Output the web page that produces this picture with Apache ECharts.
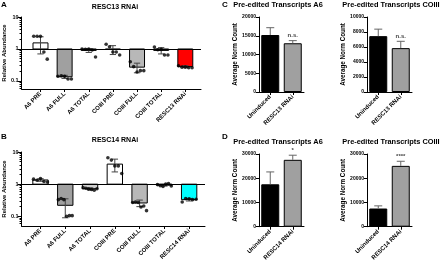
<!DOCTYPE html>
<html>
<head>
<meta charset="utf-8">
<script src="https://cdn.jsdelivr.net/npm/echarts@6/dist/echarts.min.js"></script>
<style>
  html, body { margin: 0; padding: 0; background: #fff; }
  #main { width: 440px; height: 263px; }
</style>
</head>
<body>
<div id="main"></div>
<script>
// ---- data ----
const groupsA = ['A6 PRE', 'A6 FULL', 'A6 TOTAL', 'COIII PRE', 'COIII FULL', 'COIII TOTAL', 'RESC13 RNAi'];
const groupsB = ['A6 PRE', 'A6 FULL', 'A6 TOTAL', 'COIII PRE', 'COIII FULL', 'COIII TOTAL', 'RESC14 RNAi'];

// RESC13 RNAi relative abundance: bar means, SD, replicate points
const meanA = [1.55, 0.135, 0.9, 0.97, 0.27, 0.9, 0.28];
const sdA = [0.85, 0.015, 0.12, 0.3, 0.09, 0.2, 0.02];
const ptsA = [
  [2.5, 2.5, 2.5, 0.8, 0.48],
  [0.14, 0.145, 0.14, 0.115, 0.115],
  [1.0, 0.98, 1.0, 0.93, 0.56],
  [1.4, 1.18, 0.8, 0.8, 0.65],
  [0.4, 0.28, 0.19, 0.21, 0.21],
  [1.15, 0.95, 0.97, 0.65, 0.65],
  [0.3, 0.27, 0.27, 0.26, 0.26]
];

// RESC14 RNAi relative abundance
const meanB = [1.35, 0.22, 0.72, 4.2, 0.26, 0.93, 0.33];
const sdB = [0.12, 0.13, 0.05, 1.8, 0.06, 0.06, 0.03];
const ptsB = [
  [1.43, 1.33, 1.5, 1.21, 1.17],
  [0.33, 0.36, 0.33, 0.1, 0.105, 0.105],
  [0.78, 0.75, 0.7, 0.68, 0.65, 0.72],
  [6.6, 5.6, 3.7, 3.7, 2.15],
  [0.27, 0.28, 0.27, 0.195, 0.21, 0.15],
  [0.97, 0.9, 0.85, 1.0, 1.05, 0.88],
  [0.28, 0.36, 0.35, 0.33, 0.34]
];

const condC = ['Uninduced', 'RESC13 RNAi'];
const condD = ['Uninduced', 'RESC14 RNAi'];
const cA6 = [15200, 13000], cA6Err = [1950, 700];
const cCO = [7450, 5850], cCOErr = [930, 910];
const dA6 = [17500, 27600], dA6Err = [5100, 1900];
const dCO = [7500, 25100], dCOErr = [1100, 1900];
const sigC = ['', 'n.s.'], sigDA6 = ['', '*'], sigDCO = ['', '****'];

const logTicks = [0.1, 1, 10];
const logMinor = [0.06, 0.07, 0.08, 0.09, 0.2, 0.3, 0.4, 0.5, 0.6, 0.7, 0.8, 0.9, 2, 3, 4, 5, 6, 7, 8, 9];

// ---- styles ----
const FONT = '"Liberation Sans", Arial, sans-serif';
const fillA = ['#ffffff', '#a0a0a0', '#d0d0d0', '#ffffff', '#b8b8b8', '#d0d0d0', '#ff0000'];
const fillB = ['#ffffff', '#a0a0a0', '#d0d0d0', '#ffffff', '#b8b8b8', '#d0d0d0', '#00ffff'];

const chart = echarts.init(document.getElementById('main'), null, { renderer: 'canvas' });

function bold(size) { return { fontFamily: FONT, fontWeight: 'bold', fontSize: size, color: '#000' }; }

// bars that grow from 1 on the log axis
function logBar(fills) {
  return function (params, api) {
    const i = api.value(0), v = api.value(1);
    const a = api.coord([i - 0.31, 1]), b = api.coord([i + 0.31, v]);
    return {
      type: 'rect',
      shape: { x: a[0], y: Math.min(a[1], b[1]), width: b[0] - a[0], height: Math.abs(b[1] - a[1]) },
      style: { fill: fills[i], stroke: '#000', lineWidth: 1 }
    };
  };
}

function sdBar(params, api) {
  const i = api.value(0), m = api.value(1), s = api.value(2);
  const lo = Math.max(m - s, 0.056);
  const t = api.coord([i, m + s]), bt = api.coord([i, lo]);
  const hw = api.coord([i + 0.13, 1])[0] - t[0];
  return {
    type: 'group',
    children: [
      { type: 'line', shape: { x1: t[0], y1: t[1], x2: bt[0], y2: bt[1] }, style: { stroke: '#444', lineWidth: 1 } },
      { type: 'line', shape: { x1: t[0] - hw, y1: t[1], x2: t[0] + hw, y2: t[1] }, style: { stroke: '#444', lineWidth: 1 } },
      { type: 'line', shape: { x1: bt[0] - hw, y1: bt[1], x2: bt[0] + hw, y2: bt[1] }, style: { stroke: '#444', lineWidth: 1 } }
    ]
  };
}

// upward SEM bar + significance text
function semBar(sig) {
  return function (params, api) {
    const i = api.value(0), m = api.value(1), e = api.value(2);
    const base = api.coord([i, m]), top = api.coord([i, m + e]);
    const hw = 4;
    const kids = [
      { type: 'line', shape: { x1: base[0], y1: base[1], x2: top[0], y2: top[1] }, style: { stroke: '#666', lineWidth: 1 } },
      { type: 'line', shape: { x1: top[0] - hw, y1: top[1], x2: top[0] + hw, y2: top[1] }, style: { stroke: '#666', lineWidth: 1 } }
    ];
    if (sig[i]) {
      kids.push({ type: 'text', x: top[0], y: top[1] - 2,
        style: { text: sig[i], fill: '#444', font: 'bold 6px ' + FONT, textAlign: 'center', textVerticalAlign: 'bottom' } });
    }
    return { type: 'group', children: kids };
  };
}

function spread(pts) {
  const out = [];
  pts.forEach((g, i) => {
    const n = g.length;
    g.forEach((v, k) => out.push([i + (k - (n - 1) / 2) * (0.56 / (n - 1)), v]));
  });
  return out;
}

function logGroupX(grid, cats, xmin, xmax) {
  return {
    type: 'value', gridIndex: grid, min: xmin, max: xmax,
    splitLine: { show: false },
    axisLine: { show: true, onZero: false, lineStyle: { color: '#000', width: 1 } },
    axisTick: { show: true, customValues: [0, 1, 2, 3, 4, 5, 6], length: 3, lineStyle: { color: '#000' } },
    axisLabel: Object.assign(bold(6), { customValues: [0, 1, 2, 3, 4, 5, 6], rotate: 45, margin: 4,
      formatter: v => cats[Math.round(v)] })
  };
}

function logY(grid, min, withName) {
  return {
    type: 'log', gridIndex: grid, min: min, max: 10, position: 'left',
    splitLine: { show: false },
    axisLine: { show: true, onZero: false, lineStyle: { color: '#000', width: 1 } },
    axisTick: { show: true, customValues: logTicks, length: 4, lineStyle: { color: '#000' } },
    axisLabel: Object.assign(bold(5.5), { customValues: logTicks, margin: 3, formatter: v => String(v) }),
    name: withName ? 'Relative Abundance' : '', nameLocation: 'middle', nameGap: 11,
    nameTextStyle: bold(6)
  };
}

function logMinorY(grid, min) {
  return {
    type: 'log', gridIndex: grid, min: min, max: 10, position: 'left',
    splitLine: { show: false }, axisLine: { show: false, onZero: false },
    axisTick: { show: true, customValues: logMinor, length: 2, lineStyle: { color: '#000' } },
    axisLabel: { show: false }
  };
}

function catX(grid, cats) {
  return {
    type: 'category', gridIndex: grid, data: cats,
    axisLine: { show: true, lineStyle: { color: '#000', width: 1 } },
    axisTick: { show: true, alignWithLabel: true, length: 3, lineStyle: { color: '#000' } },
    axisLabel: Object.assign(bold(6), { rotate: 45, interval: 0, margin: 4 })
  };
}

function valY(grid, max, step) {
  return {
    type: 'value', gridIndex: grid, min: 0, max: max, interval: step,
    splitLine: { show: false },
    axisLine: { show: true, lineStyle: { color: '#000', width: 1 } },
    axisTick: { show: true, length: 3, lineStyle: { color: '#000' } },
    axisLabel: Object.assign(bold(5), { margin: 3, formatter: v => String(v) }),
    name: 'Average Norm Count', nameLocation: 'middle', nameGap: 17,
    nameTextStyle: bold(6.3)
  };
}

function countBars(xi, yi, vals, errs, sig) {
  return [
    { type: 'bar', xAxisIndex: xi, yAxisIndex: yi, barWidth: 18, data: vals,
      itemStyle: { color: p => (p.dataIndex === 0 ? '#000' : '#a0a0a0'), borderColor: '#000', borderWidth: 1 } },
    { type: 'custom', xAxisIndex: xi, yAxisIndex: yi, renderItem: semBar(sig), z: 3,
      data: vals.map((v, i) => [i, v, errs[i]]) }
  ];
}

function titleText(x, y, text, size) {
  return { type: 'text', x: x, y: y,
    style: { text: text, font: 'bold ' + size + 'px ' + FONT, fill: '#000', textAlign: 'center', textVerticalAlign: 'middle' } };
}

const option = {
  animation: false,
  graphic: [
    titleText(4, 5, 'A', 8), titleText(4, 137, 'B', 8),
    titleText(225, 5, 'C', 8), titleText(225, 137, 'D', 8),
    titleText(115, 7, 'RESC13 RNAi', 7), titleText(115, 140, 'RESC14 RNAi', 7),
    titleText(278, 5, 'Pre-edited Transcripts A6', 7.4), titleText(391, 5, 'Pre-edited Transcripts COIII', 7.4),
    titleText(278, 142, 'Pre-edited Transcripts A6', 7.4), titleText(391, 142, 'Pre-edited Transcripts COIII', 7.4)
  ],
  grid: [
    { left: 21, top: 17, width: 180, height: 72 },
    { left: 21, top: 152, width: 184, height: 74 },
    { left: 259, top: 17, width: 45, height: 75 },
    { left: 367, top: 17, width: 45, height: 75 },
    { left: 259, top: 154, width: 45, height: 73 },
    { left: 367, top: 154, width: 45, height: 73 }
  ],
  xAxis: [
    logGroupX(0, groupsA, -0.785, 6.65),
    logGroupX(1, groupsB, -0.765, 6.64),
    catX(2, condC), catX(3, condC), catX(4, condD), catX(5, condD)
  ],
  yAxis: [
    logY(0, 0.056, true), logMinorY(0, 0.056),
    logY(1, 0.05, true), logMinorY(1, 0.05),
    valY(2, 20000, 5000), valY(3, 10000, 2000),
    valY(4, 30000, 10000), valY(5, 30000, 10000)
  ],
  series: [
    { type: 'custom', xAxisIndex: 0, yAxisIndex: 0, renderItem: logBar(fillA), z: 1,
      data: meanA.map((v, i) => [i, v]) },
    { type: 'custom', xAxisIndex: 0, yAxisIndex: 0, renderItem: sdBar, z: 2,
      data: meanA.map((v, i) => [i, v, sdA[i]]) },
    { type: 'scatter', xAxisIndex: 0, yAxisIndex: 0, symbolSize: 3.6, z: 4,
      itemStyle: { color: '#000' }, data: spread(ptsA),
      markLine: { silent: true, symbol: 'none', label: { show: false },
        lineStyle: { color: '#000', width: 1, type: 'solid' }, data: [{ yAxis: 1 }] } },

    { type: 'custom', xAxisIndex: 1, yAxisIndex: 2, renderItem: logBar(fillB), z: 1,
      data: meanB.map((v, i) => [i, v]) },
    { type: 'custom', xAxisIndex: 1, yAxisIndex: 2, renderItem: sdBar, z: 2,
      data: meanB.map((v, i) => [i, v, sdB[i]]) },
    { type: 'scatter', xAxisIndex: 1, yAxisIndex: 2, symbolSize: 3.6, z: 4,
      itemStyle: { color: '#000' }, data: spread(ptsB),
      markLine: { silent: true, symbol: 'none', label: { show: false },
        lineStyle: { color: '#000', width: 1, type: 'solid' }, data: [{ yAxis: 1 }] } },

    ...countBars(2, 4, cA6, cA6Err, sigC),
    ...countBars(3, 5, cCO, cCOErr, sigC),
    ...countBars(4, 6, dA6, dA6Err, sigDA6),
    ...countBars(5, 7, dCO, dCOErr, sigDCO)
  ]
};

chart.setOption(option);
</script>
</body>
</html>
